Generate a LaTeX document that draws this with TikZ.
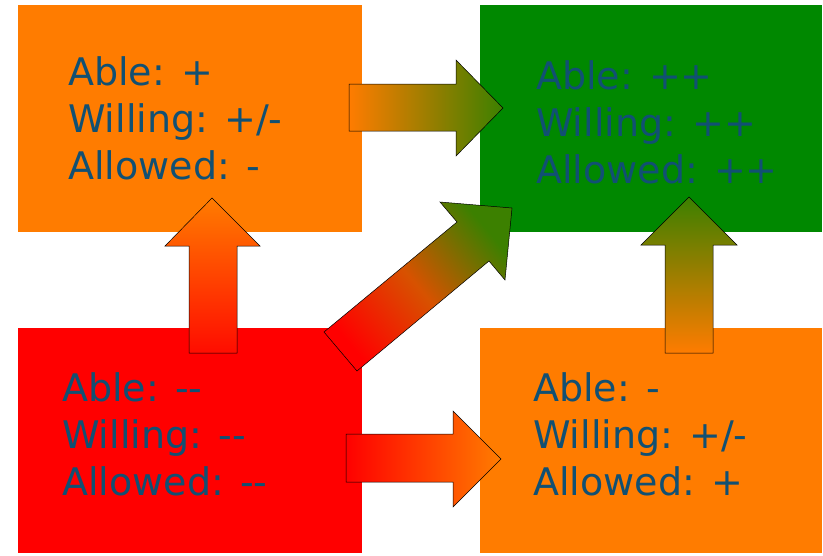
\documentclass[tikz,border=0pt]{standalone}
\usepackage{fontspec}
\setmainfont{DejaVu Sans}
\usepackage{tikz}

\definecolor{boxorange}{RGB}{255,124,0}
\definecolor{boxgreen}{RGB}{0,136,0}
\definecolor{boxred}{RGB}{255,0,0}
\definecolor{textblue}{RGB}{17,80,115}
\definecolor{arrowgreen}{RGB}{60,128,0}
\definecolor{arrowmid}{RGB}{215,82,0}

\tikzset{
	statebox/.style={rectangle,inner sep=0pt,draw=none},
	statetext/.style={anchor=base west,inner sep=0pt,align=left,text=textblue,font=\fontsize{38}{47}\selectfont},
	blockarrow/.style={draw=black,line width=0.5pt,line join=miter}
}

\begin{document}
\begin{tikzpicture}[x=1pt,y=-1pt]
	\useasboundingbox (0,0) rectangle (823,555);
	\node[statebox,fill=boxorange,minimum width=344pt,minimum height=227pt] (topleft) at (190,118.5) {};
	\node[statebox,fill=boxgreen,minimum width=342pt,minimum height=227pt] (topright) at (651,118.5) {};
	\node[statebox,fill=boxred,minimum width=344pt,minimum height=225pt] (bottomleft) at (190,440.5) {};
	\node[statebox,fill=boxorange,minimum width=342pt,minimum height=225pt] (bottomright) at (651,440.5) {};

	\node[statetext] (tltext) at (68,179) {Able: +\\Willing: +/-\\Allowed: -};
	\node[statetext] (trtext) at (536,183) {Able: ++\\Willing: ++\\Allowed: ++};
	\node[statetext] (bltext) at (62,495) {Able: {-}{-}\\Willing: {-}{-}\\Allowed: {-}{-}};
	\node[statetext] (brtext) at (533,495) {Able: -\\Willing: +/-\\Allowed: +};

	\draw[blockarrow,left color=boxorange,right color=arrowgreen] (349,84) -- (456,84) -- (456,60) -- (503,108) -- (456,156) -- (456,131) -- (349,131) -- cycle;
	\draw[blockarrow,left color=boxred,right color=boxorange] (346,434) -- (453,434) -- (453,411) -- (501,459) -- (453,507) -- (453,482) -- (346,482) -- cycle;
	\draw[blockarrow,bottom color=boxred!90!boxorange,top color=boxorange] (189,353) -- (189,246) -- (165,246) -- (212,198) -- (260,246) -- (237,246) -- (237,353) -- cycle;
	\draw[blockarrow,bottom color=boxorange,top color=arrowgreen] (665,353) -- (665,245) -- (641,245) -- (689,197) -- (737,245) -- (713,245) -- (713,353) -- cycle;
	\draw[blockarrow,bottom color=boxred,top color=arrowgreen,middle color=arrowmid,shading angle=-50] (324,332) -- (457,222) -- (440,202) -- (512,208) -- (505,280) -- (489,261) -- (357,371) -- cycle;
\end{tikzpicture}
\end{document}
